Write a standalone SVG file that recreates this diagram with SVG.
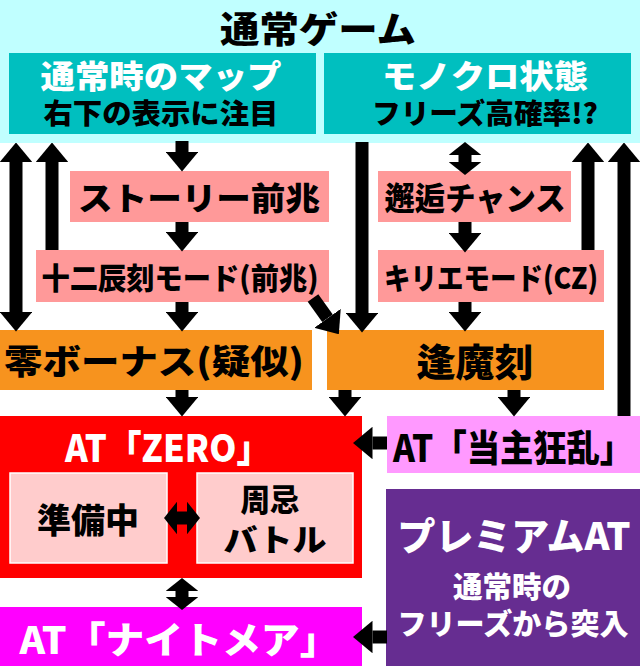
<svg xmlns="http://www.w3.org/2000/svg" width="640" height="666" viewBox="0 0 640 666">
<style>
text{font-family:"Noto Sans CJK JP","Noto Sans",sans-serif;font-weight:900;text-anchor:middle;dominant-baseline:central}
.w{fill:#fff}.k{fill:#000}
.c{stroke:#000;stroke-width:13;fill:none}
</style>
<defs>
<marker id="ah" viewBox="0 0 6 10" refX="0" refY="5" markerWidth="1.5" markerHeight="2.5" orient="auto-start-reverse" markerUnits="strokeWidth"><path d="M0,0L6,5L0,10z" fill="#000"/></marker>
<marker id="as" viewBox="0 0 4 10" refX="0" refY="5" markerWidth="1" markerHeight="2.5" orient="auto-start-reverse" markerUnits="strokeWidth"><path d="M0,0L4,5L0,10z" fill="#000"/></marker>
</defs>
<rect width="640" height="666" fill="#fff"/>
<g id="normal">
<rect x="0" y="0" width="640" height="143" fill="#c0ffff"/>
<text x="318" y="27" font-size="36" textLength="196" lengthAdjust="spacingAndGlyphs" class="k">通常ゲーム</text>
</g>
<g id="map">
<rect x="9" y="53" width="307" height="81" fill="#00bfbf"/>
<text x="161" y="74" font-size="32" textLength="241" lengthAdjust="spacingAndGlyphs" class="w">通常時のマップ</text>
<text x="161" y="112" font-size="28" textLength="235" lengthAdjust="spacingAndGlyphs" class="k">右下の表示に注目</text>
</g>
<g id="mono">
<rect x="324" y="53" width="307" height="81" fill="#00bfbf"/>
<text x="485" y="74" font-size="32" textLength="206" lengthAdjust="spacingAndGlyphs" class="w">モノクロ状態</text>
<text x="485" y="112" font-size="28" textLength="226" lengthAdjust="spacingAndGlyphs" class="k">フリーズ高確率!?</text>
</g>
<g id="story">
<rect x="70" y="171" width="259" height="51" fill="#ff9999"/>
<text x="199" y="196" font-size="32" textLength="242" lengthAdjust="spacingAndGlyphs" class="k">ストーリー前兆</text>
</g>
<g id="junishin">
<rect x="36" y="250" width="293" height="52" fill="#ff9999"/>
<text x="180" y="276" font-size="30" textLength="277" lengthAdjust="spacingAndGlyphs" class="k">十二辰刻モード(前兆)</text>
</g>
<g id="kaiko">
<rect x="378" y="171" width="193" height="51" fill="#ff9999"/>
<text x="475" y="196" font-size="32" textLength="181" lengthAdjust="spacingAndGlyphs" class="k">邂逅チャンス</text>
</g>
<g id="kirie">
<rect x="378" y="250" width="226" height="52" fill="#ff9999"/>
<text x="491" y="276" font-size="30" textLength="214" lengthAdjust="spacingAndGlyphs" class="k">キリエモード(CZ)</text>
</g>
<g id="zerobonus">
<rect x="0" y="330" width="312" height="60" fill="#f7931e"/>
<text x="154" y="359" font-size="34" textLength="300" lengthAdjust="spacingAndGlyphs" class="k">零ボーナス(疑似)</text>
</g>
<g id="omagatoki">
<rect x="327" y="330" width="277" height="60" fill="#f7931e"/>
<text x="475" y="359" font-size="38" textLength="117" lengthAdjust="spacingAndGlyphs" class="k">逢魔刻</text>
</g>
<g id="atzero">
<rect x="0" y="416" width="362" height="162" fill="#ff0000"/>
<text x="168" y="445" font-size="38" textLength="206" lengthAdjust="spacingAndGlyphs" class="w">AT「ZERO」</text>
</g>
<g id="junbi">
<rect x="10" y="473" width="157" height="90" fill="#ffcccc" stroke="#fff" stroke-width="1.5"/>
<text x="88" y="518" font-size="34" textLength="102" lengthAdjust="spacingAndGlyphs" class="k">準備中</text>
</g>
<g id="shuki">
<rect x="197" y="473" width="156" height="90" fill="#ffcccc" stroke="#fff" stroke-width="1.5"/>
<text x="270" y="497" font-size="31" textLength="59" lengthAdjust="spacingAndGlyphs" class="k">周忌</text>
<text x="275" y="537" font-size="31" textLength="103" lengthAdjust="spacingAndGlyphs" class="k">バトル</text>
</g>
<g id="tosyu">
<rect x="387" y="416" width="253" height="57" fill="#ff99ff"/>
<text x="513" y="446" font-size="37" textLength="240" lengthAdjust="spacingAndGlyphs" class="k">AT「当主狂乱」</text>
</g>
<g id="premium">
<rect x="386" y="489" width="254" height="177" fill="#662d91"/>
<text x="514" y="533" font-size="38" textLength="233" lengthAdjust="spacingAndGlyphs" class="w">プレミアムAT</text>
<text x="512" y="585" font-size="29" textLength="118" lengthAdjust="spacingAndGlyphs" class="w">通常時の</text>
<text x="513" y="622" font-size="29" textLength="231" lengthAdjust="spacingAndGlyphs" class="w">フリーズから突入</text>
</g>
<g id="nightmare">
<rect x="0" y="607" width="362" height="59" fill="#ff00ff"/>
<text x="179" y="638" font-size="37" textLength="319" lengthAdjust="spacingAndGlyphs" class="w">AT「ナイトメア」</text>
</g>
<g id="connectors" class="c">
<line x1="182" y1="141" x2="182" y2="152" marker-end="url(#ah)"/>
<line x1="182" y1="222" x2="182" y2="232" marker-end="url(#ah)"/>
<line x1="182" y1="302" x2="182" y2="312" marker-end="url(#ah)"/>
<line x1="16" y1="162" x2="16" y2="312" marker-start="url(#ah)" marker-end="url(#ah)"/>
<line x1="52" y1="250" x2="52" y2="162" marker-end="url(#ah)"/>
<line x1="313" y1="298" x2="327.5" y2="318.3" marker-end="url(#ah)"/>
<line x1="362" y1="142" x2="362" y2="313" marker-end="url(#ah)"/>
<line x1="465" y1="155" x2="465" y2="162" marker-start="url(#as)" marker-end="url(#as)"/>
<line x1="465" y1="222" x2="465" y2="233" marker-end="url(#ah)"/>
<line x1="465" y1="302" x2="465" y2="312" marker-end="url(#ah)"/>
<line x1="588" y1="250" x2="588" y2="162" marker-end="url(#ah)"/>
<line x1="624" y1="416" x2="624" y2="162" marker-end="url(#ah)"/>
<line x1="182" y1="390" x2="182" y2="397" marker-end="url(#ah)"/>
<line x1="345" y1="390" x2="345" y2="397" marker-end="url(#ah)"/>
<line x1="514" y1="390" x2="514" y2="397" marker-end="url(#ah)"/>
<line x1="387" y1="443" x2="372.5" y2="443" marker-end="url(#ah)"/>
<line x1="177" y1="518" x2="187" y2="518" marker-start="url(#as)" marker-end="url(#as)"/>
<line x1="182" y1="591" x2="182" y2="597" marker-start="url(#as)" marker-end="url(#as)"/>
<line x1="387" y1="637" x2="372.5" y2="637" marker-end="url(#ah)"/>
</g>
</svg>
